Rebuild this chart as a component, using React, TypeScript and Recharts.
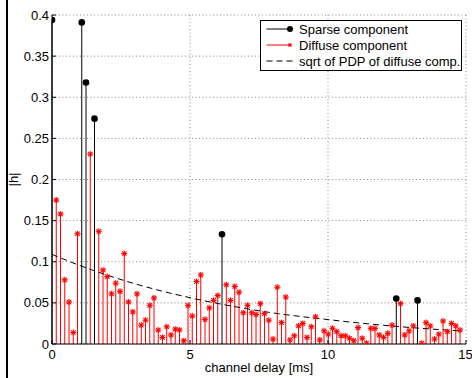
import React from 'react';
import {
  ComposedChart,
  Scatter,
  Line,
  XAxis,
  YAxis,
  CartesianGrid,
  ErrorBar,
  Legend,
  ReferenceArea,
} from 'recharts';

const sparseDelay = [0, 1.078, 1.232, 1.54, 6.16, 12.474, 13.244];
const sparseValue = [0.394, 0.391, 0.318, 0.274, 0.1335, 0.0554, 0.053];

const diffuseDelay = [
  0.154, 0.308, 0.462, 0.616, 0.77, 0.924, 1.386, 1.694, 1.848, 2.002,
  2.156, 2.31, 2.464, 2.618, 2.772, 2.926, 3.08, 3.234, 3.388, 3.542,
  3.696, 3.85, 4.004, 4.158, 4.312, 4.466, 4.62, 4.774, 4.928, 5.082,
  5.236, 5.39, 5.544, 5.698, 5.852, 6.006, 6.314, 6.468, 6.622, 6.776,
  6.93, 7.084, 7.238, 7.392, 7.546, 7.7, 7.854, 8.008, 8.162, 8.316,
  8.47, 8.624, 8.778, 8.932, 9.086, 9.24, 9.394, 9.548, 9.702, 9.856,
  10.01, 10.164, 10.318, 10.472, 10.626, 10.78, 10.934, 11.088, 11.242, 11.396,
  11.55, 11.704, 11.858, 12.012, 12.166, 12.32, 12.628, 12.782, 12.936, 13.09,
  13.398, 13.552, 13.706, 13.86, 14.014, 14.168, 14.322, 14.476, 14.63, 14.784,
];
const diffuseValue = [
  0.175, 0.158, 0.078, 0.051, 0.014, 0.134, 0.231, 0.137, 0.09, 0.082,
  0.061, 0.074, 0.064, 0.11, 0.051, 0.039, 0.061, 0.023, 0.029, 0.047,
  0.056, 0.017, 0.008, 0.021, 0.011, 0.018, 0.017, 0.004, 0.047, 0.034,
  0.076, 0.084, 0.03, 0.044, 0.053, 0.059, 0.072, 0.053, 0.07, 0.063,
  0.038, 0.047, 0.038, 0.036, 0.049, 0.037, 0.029, 0.006, 0.069, 0.026,
  0.057, 0.005, 0.01, 0.022, 0.025, 0.008, 0.021, 0.033, 0.005, 0.016,
  0.012, 0.019, 0.015, 0.01, 0.01, 0.007, 0.004, 0.02, 0.007, 0.001,
  0.019, 0.019, 0.011, 0.008, 0.013, 0.023, 0.049, 0.011, 0.016, 0.022,
  0.001, 0.026, 0.022, 0.006, 0.012, 0.028, 0.015, 0.025, 0.022, 0.017,
];

const pdpDelay = [0, 1, 2, 3, 4, 5, 6, 7, 8, 9, 10, 11, 12, 13, 14, 14.784];
const pdpValue = [
  0.109, 0.0955, 0.0837, 0.0733, 0.0642, 0.0563, 0.0493, 0.0432, 0.0378,
  0.0335, 0.0297, 0.026, 0.0228, 0.02, 0.0176, 0.016,
];

const xTicks = [0, 5, 10, 15];
const yTicks = [0, 0.05, 0.1, 0.15, 0.2, 0.25, 0.3, 0.35, 0.4];
const legendLabels = ['Sparse component', 'Diffuse component', 'sqrt of PDP of diffuse comp.'];
const xLabel = 'channel delay [ms]';
const yLabel = '|h|';

const sparseData = sparseDelay.map((t, i) => ({ t, h: sparseValue[i], err: [sparseValue[i], 0] }));
const diffuseData = diffuseDelay.map((t, i) => ({ t, h: diffuseValue[i], err: [diffuseValue[i], 0] }));
const pdpData = pdpDelay.map((t, i) => ({ t, h: pdpValue[i] }));

const FONT = '"Liberation Sans", Arial, Helvetica, sans-serif';
const RED = '#ff0000';

const Dot = (props: any) => {
  const { cx, cy } = props;
  if (cx == null || cy == null) return null;
  return <circle cx={cx} cy={cy} r={3.3} fill="#000" />;
};

const Star = (props: any) => {
  const { cx, cy } = props;
  if (cx == null || cy == null) return null;
  const r = 3;
  const d = 2.2;
  return (
    <g stroke={RED} strokeWidth={1.1}>
      <line x1={cx - r} y1={cy} x2={cx + r} y2={cy} />
      <line x1={cx} y1={cy - r} x2={cx} y2={cy + r} />
      <line x1={cx - d} y1={cy - d} x2={cx + d} y2={cy + d} />
      <line x1={cx - d} y1={cy + d} x2={cx + d} y2={cy - d} />
    </g>
  );
};

const LegendBox = () => {
  const rows = [9, 25, 41];
  return (
    <svg width={203} height={52} style={{ display: 'block' }}>
      <rect x={0.5} y={0.5} width={201} height={50} fill="#fff" stroke="#000" strokeWidth={1} />
      <line x1={6.5} y1={rows[0]} x2={30} y2={rows[0]} stroke="#000" strokeWidth={1} />
      <circle cx={30} cy={rows[0]} r={3} fill="#000" />
      <line x1={6.5} y1={rows[1]} x2={30} y2={rows[1]} stroke={RED} strokeWidth={1} />
      <g stroke={RED} strokeWidth={1}>
        <line x1={28} y1={rows[1]} x2={32} y2={rows[1]} />
        <line x1={30} y1={rows[1] - 2} x2={30} y2={rows[1] + 2} />
        <line x1={28.5} y1={rows[1] - 1.5} x2={31.5} y2={rows[1] + 1.5} />
        <line x1={28.5} y1={rows[1] + 1.5} x2={31.5} y2={rows[1] - 1.5} />
      </g>
      <line x1={6.5} y1={rows[2]} x2={33} y2={rows[2]} stroke="#000" strokeWidth={1} strokeDasharray="6 4" />
      {legendLabels.map((l, i) => (
        <text key={l} x={39} y={rows[i]} dominantBaseline="central" fontSize={13} fontFamily={FONT} fill="#000">
          {l}
        </text>
      ))}
    </svg>
  );
};

const renderYLabel = (props: any) => {
  const vb = props.viewBox || { x: 0, y: 15, width: 52, height: 329 };
  const x = vb.x + 13;
  const y = vb.y + vb.height / 2;
  return (
    <text
      x={x}
      y={y}
      transform={`rotate(-90 ${x} ${y})`}
      textAnchor="middle"
      dominantBaseline="central"
      fontSize={13}
      fontFamily={FONT}
      fill="#000"
    >
      {yLabel}
    </text>
  );
};

export default function App() {
  return (
    <div style={{ position: 'absolute', left: 0, top: 0, width: 472, height: 378, background: '#fff' }}>
      <div style={{ position: 'absolute', left: 6, top: 0, width: 2, height: 378, background: '#000' }} />
      <ComposedChart
        width={472}
        height={378}
        margin={{ top: 15, right: 6, bottom: 0, left: 0 }}
        style={{ fontFamily: FONT }}
      >
        <CartesianGrid stroke="#8a8a8a" strokeDasharray="1 2.5" horizontalValues={yTicks} verticalValues={xTicks} />
        <XAxis
          dataKey="t"
          type="number"
          domain={[0, 15]}
          ticks={xTicks}
          allowDataOverflow
          height={34}
          axisLine={{ stroke: '#000' }}
          tickLine={{ stroke: '#000' }}
          tickSize={-4}
          tickMargin={10}
          tick={{ fill: '#000', fontSize: 13, fontFamily: FONT }}
          label={{ value: xLabel, position: 'insideBottom', offset: 6, fill: '#000', fontSize: 13, fontFamily: FONT }}
        />
        <XAxis
          xAxisId="top"
          dataKey="t"
          type="number"
          orientation="top"
          domain={[0, 15]}
          ticks={xTicks}
          allowDataOverflow
          height={0}
          axisLine={{ stroke: '#000' }}
          tickLine={{ stroke: '#000' }}
          tickSize={-4}
          tick={false}
        />
        <YAxis
          type="number"
          domain={[0, 0.4]}
          ticks={yTicks}
          allowDataOverflow
          width={52}
          axisLine={{ stroke: '#000' }}
          tickLine={{ stroke: '#000' }}
          tickSize={-4}
          tickMargin={7}
          tickFormatter={(v: number) => String(v)}
          tick={{ fill: '#000', fontSize: 13, fontFamily: FONT }}
          label={renderYLabel}
        />
        <YAxis
          yAxisId="right"
          type="number"
          orientation="right"
          domain={[0, 0.4]}
          ticks={yTicks}
          allowDataOverflow
          width={0}
          axisLine={{ stroke: '#000' }}
          tickLine={{ stroke: '#000' }}
          tickSize={-4}
          tick={false}
        />
        <Scatter data={sparseData} dataKey="h" shape={Dot} isAnimationActive={false}>
          <ErrorBar dataKey="err" direction="y" width={0} stroke="#000" strokeWidth={1} isAnimationActive={false} />
        </Scatter>
        <Scatter data={diffuseData} dataKey="h" shape={Star} isAnimationActive={false}>
          <ErrorBar dataKey="err" direction="y" width={0} stroke={RED} strokeWidth={1} isAnimationActive={false} />
        </Scatter>
        <Line
          data={pdpData}
          dataKey="h"
          type="monotone"
          stroke="#000"
          strokeWidth={1}
          strokeDasharray="6 4"
          dot={false}
          activeDot={false}
          isAnimationActive={false}
        />
        <Legend
          layout="horizontal"
          verticalAlign="middle"
          align="center"
          wrapperStyle={{ left: 260, top: 20, width: 203, height: 52 }}
          content={() => <LegendBox />}
        />
      </ComposedChart>
    </div>
  );
}
